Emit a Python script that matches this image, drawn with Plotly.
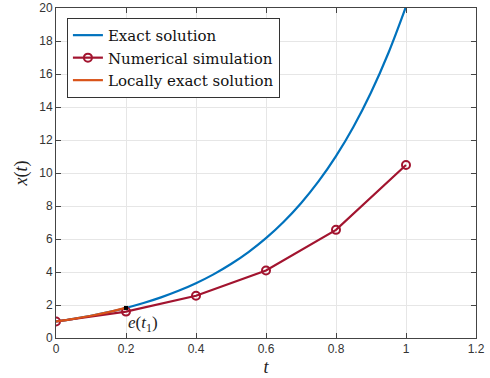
import plotly.graph_objects as go

# Exact solution samples
t_exact = [0, 0.05, 0.1, 0.15, 0.2, 0.25, 0.3, 0.35, 0.4, 0.45, 0.5, 0.55, 0.6,
           0.65, 0.7, 0.75, 0.8, 0.85, 0.9, 0.95, 1.0]
x_exact = [1.0, 1.162, 1.350, 1.568, 1.822, 2.117, 2.460, 2.858, 3.320, 3.857,
           4.482, 5.207, 6.050, 7.029, 8.166, 9.488, 11.023, 12.807, 14.880,
           17.288, 20.086]

# Numerical simulation
t_num = [0, 0.2, 0.4, 0.6, 0.8, 1.0]
x_num = [1.0, 1.6, 2.56, 4.096, 6.554, 10.486]

# Locally exact solution
t_loc = [0, 0.05, 0.1, 0.15, 0.2]
x_loc = [1.0, 1.162, 1.350, 1.568, 1.822]

BLUE = "#0072BD"
RED = "#A2142F"
ORANGE = "#D95319"
SERIF = "Liberation Serif, DejaVu Serif, serif"
LEGSERIF = "DejaVu Serif, Liberation Serif, serif"
SANS = "Liberation Sans, Arial, sans-serif"

fig = go.Figure()
fig.add_trace(go.Scatter(x=t_exact, y=x_exact, mode="lines", name="Exact solution",
                         line=dict(color=BLUE, width=2.2, shape="spline")))
fig.add_trace(go.Scatter(x=t_num, y=x_num, mode="lines+markers", name="Numerical simulation",
                         line=dict(color=RED, width=2.2),
                         marker=dict(symbol="circle-open", size=8, color=RED,
                                     line=dict(width=2, color=RED))))
fig.add_trace(go.Scatter(x=t_loc, y=x_loc, mode="lines", name="Locally exact solution",
                         line=dict(color=ORANGE, width=2.2, shape="spline")))
fig.add_trace(go.Scatter(x=[t_loc[-1]], y=[x_loc[-1]], mode="markers", showlegend=False,
                         marker=dict(symbol="square", size=4, color="black")))

fig.add_annotation(x=0.2, y=0.85, xref="x", yref="y", xanchor="left", yanchor="middle",
                   text="<i>e</i>(<i>t</i><sub>1</sub>)", showarrow=False,
                   font=dict(family=SERIF, size=17, color="#222"))

axis_common = dict(showgrid=True, gridcolor="#e6e6e6", gridwidth=1,
                   showline=True, linecolor="#444", linewidth=1, mirror="ticks",
                   ticks="inside", ticklen=5, tickcolor="#444", automargin=False,
                   tickfont=dict(family=SANS, size=12, color="#333"), zeroline=False)

fig.update_layout(
    width=490, height=378,
    margin=dict(l=56, r=14, t=8, b=40),
    plot_bgcolor="white", paper_bgcolor="white",
    xaxis=dict(range=[0, 1.2], tickvals=[0, 0.2, 0.4, 0.6, 0.8, 1, 1.2],
               ticktext=["0", "0.2", "0.4", "0.6", "0.8", "1", "1.2"],
               title=dict(text="<i>t</i>", font=dict(family=SERIF, size=18, color="#222"),
                          standoff=4),
               **axis_common),
    yaxis=dict(range=[0, 20], tickvals=list(range(0, 21, 2)),
               title=dict(text="<i>x</i>(<i>t</i>)", font=dict(family=SERIF, size=18, color="#222"),
                          standoff=6),
               **axis_common),
    legend=dict(x=0.026, y=0.97, xanchor="left", yanchor="top",
                bgcolor="white", bordercolor="#333", borderwidth=1,
                font=dict(family=LEGSERIF, size=15, color="#111"),
                tracegroupgap=0, itemwidth=30),
    showlegend=True,
)

fig.write_html("out.html", config={"displayModeBar": False},
               post_script="document.body.style.margin='0';document.body.style.overflow='hidden';")
